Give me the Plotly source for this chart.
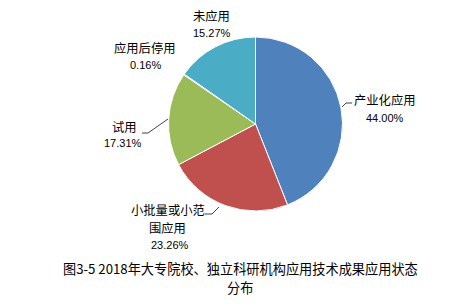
import plotly.graph_objects as go

W, H = 460, 308

labels = ["产业化应用", "小批量或小范围应用", "试用", "应用后停用", "未应用"]
values = [44.00, 23.26, 17.31, 0.16, 15.27]
pct_text = ["44.00%", "23.26%", "17.31%", "0.16%", "15.27%"]
label_text = [["产业化应用"], ["小批量或小范", "围应用"], ["试用"], ["应用后停用"], ["未应用"]]
colors = ["#4F81BD", "#C0504D", "#9BBB59", "#8064A2", "#4BACC6"]
title_lines = ["图3-5 2018年大专院校、独立科研机构应用技术成果应用状态", "分布"]

# label anchor positions (px) : (name_x, name_y, pct_x, pct_y)
label_pos = [
    (385, 100, 385, 118),
    (168, 210, 170, 245),
    (124, 127, 123, 143),
    (145, 48, 145, 65),
    (211, 16, 212, 33),
]
# leader lines in px
leaders = [
    [(342, 107), (346, 103), (352, 103)],
    [(205, 214), (212, 214), (219, 207)],
    [(142, 133), (148, 133), (168, 119)],
]

def px(x, y):
    return x / W, 1 - y / H

CJK = "Noto Sans CJK SC"
fig = go.Figure(go.Pie(
    labels=labels, values=values, sort=False, direction="clockwise", rotation=0,
    marker=dict(colors=colors, line=dict(color="white", width=1)),
    textinfo="none", hoverinfo="label+percent",
    domain=dict(x=[168.5 / W, 342.5 / W], y=[1 - 211 / H, 1 - 37 / H]),
    showlegend=False,
))

anns = []
for (nx, ny, qx, qy), lts, pt in zip(label_pos, label_text, pct_text):
    for j, lt in enumerate(lts):
        x, y = px(nx - 1 * j, ny + 18 * j)
        anns.append(dict(x=x, y=y, xref="paper", yref="paper", text=lt, showarrow=False,
                         xanchor="center", yanchor="middle",
                         font=dict(family=CJK, size=12.3, color="#000")))
    x, y = px(qx, qy)
    anns.append(dict(x=x, y=y, xref="paper", yref="paper", text=pt, showarrow=False,
                     xanchor="center", yanchor="middle",
                     font=dict(family="Liberation Sans, Arial", size=11, color="#000")))

for i, line in enumerate(title_lines):
    x, y = px(240, 268 + 19.5 * i)
    anns.append(dict(x=x, y=y, xref="paper", yref="paper", text=line, showarrow=False,
                     xanchor="center", yanchor="middle",
                     font=dict(family=CJK, size=13.2, color="#000")))

shapes = []
for pts in leaders:
    path = "M " + " L ".join(f"{px(a, b)[0]},{px(a, b)[1]}" for a, b in pts)
    shapes.append(dict(type="path", xref="paper", yref="paper", path=path,
                       line=dict(color="#404040", width=1)))

fig.update_layout(width=W, height=H, margin=dict(l=0, r=0, t=0, b=0),
                  paper_bgcolor="white", plot_bgcolor="white",
                  annotations=anns, shapes=shapes)
fig.write_html("out.html")
